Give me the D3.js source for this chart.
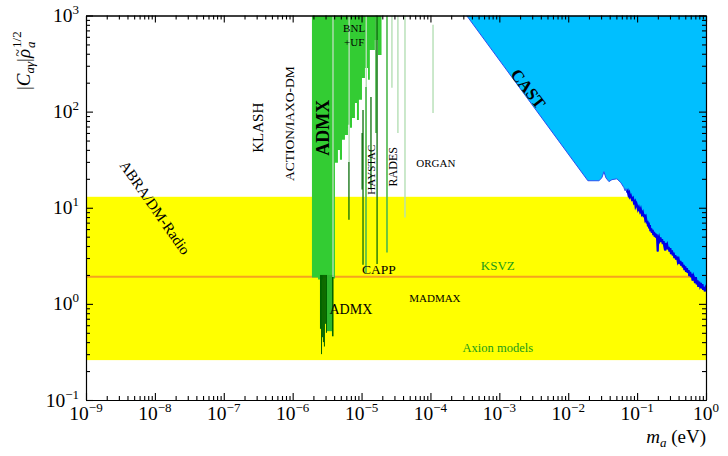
<!DOCTYPE html>
<html>
<head>
<meta charset="utf-8">
<script src="https://cdn.jsdelivr.net/npm/d3@7"></script>
<style>
  body { margin: 0; background: #fff; }
  svg, svg text { font-family: "Liberation Serif", "Times New Roman", "DejaVu Serif", serif; }
</style>
</head>
<body>
<div class="chart"></div>
<script>
// axis ranges and tick exponents
const xDomain = [1e-9, 1];
const yDomain = [0.1, 1000];
const xTickExps = [-9, -8, -7, -6, -5, -4, -3, -2, -1, 0];
const yTickExps = [-1, 0, 1, 2, 3];

// axion model band and KSVZ line
const axionBand = [0.26, 13.0];
const ksvzValue = 1.92;

// CAST lower edge [m_a, C]
const castEdge = [
  [3.35e-4, 1000], [0.0193, 19.1], [0.0279, 19.1], [0.0308, 20.5], [0.0330, 23.7],
  [0.0352, 20.5], [0.0390, 18.7], [0.0431, 19.6], [0.0509, 20.0], [0.0582, 18.2],
  [0.0643, 16.2], [0.067, 15.0], [0.069, 15.8], [0.0711, 14.4], [0.073, 14.9],
  [0.0750, 13.6], [0.077, 14.2], [0.0787, 13.0], [0.081, 13.4], [0.084, 12.2],
  [0.087, 12.6], [0.090, 11.3], [0.093, 11.7], [0.095, 10.4], [0.098, 11.0],
  [0.101, 10.2], [0.103, 9.6], [0.106, 10.1], [0.110, 9.2], [0.113, 9.7],
  [0.117, 8.6], [0.121, 9.0], [0.125, 8.0], [0.128, 8.5], [0.131, 7.6],
  [0.134, 7.9], [0.138, 6.9], [0.141, 7.3], [0.144, 6.4], [0.147, 7.0],
  [0.150, 6.1], [0.153, 6.6], [0.156, 5.7], [0.160, 6.1], [0.164, 5.5],
  [0.168, 5.9], [0.172, 5.2], [0.176, 5.6], [0.180, 5.0], [0.184, 5.4],
  [0.188, 4.9], [0.192, 5.3], [0.196, 4.6], [0.199, 3.5], [0.202, 4.8],
  [0.207, 5.0], [0.212, 4.6], [0.218, 4.9], [0.224, 4.4], [0.230, 4.7],
  [0.236, 4.2], [0.242, 4.5], [0.248, 4.0], [0.255, 3.6], [0.260, 4.3],
  [0.266, 3.9], [0.273, 4.1], [0.280, 3.7], [0.287, 3.9], [0.295, 3.5],
  [0.303, 3.8], [0.311, 3.3], [0.320, 3.6], [0.329, 3.2], [0.338, 3.4],
  [0.348, 3.0], [0.358, 3.2], [0.368, 2.9], [0.379, 3.1], [0.390, 2.75],
  [0.401, 2.9], [0.413, 2.6], [0.425, 2.8], [0.437, 2.5], [0.449, 2.7],
  [0.461, 2.4], [0.474, 2.55], [0.487, 2.25], [0.500, 2.45], [0.514, 2.15],
  [0.528, 2.35], [0.543, 2.1], [0.558, 2.25], [0.573, 1.95], [0.589, 2.15],
  [0.605, 1.9], [0.622, 2.05], [0.639, 1.75], [0.657, 1.95], [0.675, 1.85],
  [0.694, 1.65], [0.713, 1.9], [0.733, 1.6], [0.753, 1.75], [0.774, 1.5],
  [0.795, 1.7], [0.817, 1.55], [0.840, 1.65], [0.863, 1.45], [0.887, 1.6],
  [0.911, 1.4], [0.936, 1.5], [0.962, 1.35], [0.985, 1.45], [1.0, 1.4]
];

// haloscope exclusion (ADMX, BNL+UF, HAYSTAC ...) lower edge as steps [m_a, C]
const haloscopeSteps = [
  [1.905e-6, 1.88], [2.33e-6, 1.79], [2.75e-6, 1.97], [3.25e-6, 1.84],
  [4.11e-6, 29.4], [4.54e-6, 40], [4.85e-6, 31.6], [5.20e-6, 51], [5.74e-6, 57],
  [6.35e-6, 73], [6.79e-6, 68], [7.26e-6, 86], [8.02e-6, 123], [8.57e-6, 82],
  [9.16e-6, 133], [1.014e-5, 224], [1.12e-5, 285], [1.24e-5, 214], [1.32e-5, 438],
  [1.56e-5, 557], [1.73e-5, 389], [1.95e-5, 389]
];

// deep ADMX limits [m_low, m_high, C]
const admxDeepDark = [
  [2.49e-6, 2.58e-6, 0.55], [2.58e-6, 2.66e-6, 0.30], [2.66e-6, 2.75e-6, 0.45],
  [2.75e-6, 2.84e-6, 0.40], [2.84e-6, 2.94e-6, 0.36], [2.94e-6, 3.04e-6, 0.62],
  [3.04e-6, 3.15e-6, 0.50], [3.72e-6, 3.92e-6, 0.46]
];
const admxDeepMid = [[3.15e-6, 3.72e-6, 0.52]];

// narrow haloscope scans [m_a, C_low, C_high]
const darkScans = [
  [6.56e-6, 7.5, 30], [1.05e-5, 2.56, 104], [1.02e-5, 15.5, 60], [1.37e-5, 15.5, 142],
  [1.68e-5, 2.6, 1000]
];
const midScans = [
  [1.16e-5, 2.1, 180], [2.34e-5, 3.42, 1000], [1.62e-5, 60, 1000]
];
const paleScans = [
  [3.85e-6, 1.9, 1000], [6.6e-6, 30, 1000], [1.17e-5, 18.2, 1000], [2.76e-5, 177, 1000],
  [3.37e-5, 60, 1000], [4.27e-5, 7.9, 1000], [1.09e-4, 97, 800]
];

const width = 728, height = 456;
const margin = { top: 15.5, right: 22, bottom: 56, left: 86 };
const serif = "Liberation Serif, Times New Roman, DejaVu Serif, serif";

const svg = d3.select(".chart").append("svg")
  .attr("width", width)
  .attr("height", height)
  .attr("font-family", serif);

const x = d3.scaleLog().domain(xDomain).range([margin.left, width - margin.right]);
const y = d3.scaleLog().domain(yDomain).range([height - margin.bottom, margin.top]);

svg.append("clipPath").attr("id", "plot-clip")
  .append("rect")
  .attr("x", margin.left).attr("y", margin.top)
  .attr("width", x(1) - x(1e-9)).attr("height", y(0.1) - y(1000));

const plot = svg.append("g").attr("clip-path", "url(#plot-clip)");

// yellow axion model band
plot.append("rect")
  .attr("x", x(xDomain[0]))
  .attr("width", x(xDomain[1]) - x(xDomain[0]))
  .attr("y", y(axionBand[1]))
  .attr("height", y(axionBand[0]) - y(axionBand[1]))
  .attr("fill", "#ffff00");

// KSVZ
plot.append("line")
  .attr("x1", x(xDomain[0])).attr("x2", x(xDomain[1]))
  .attr("y1", y(ksvzValue)).attr("y2", y(ksvzValue))
  .attr("stroke", "#f5a31f").attr("stroke-width", 2);

// haloscopes
const haloArea = d3.area()
  .x(d => x(d[0]))
  .y0(y(1000))
  .y1(d => y(d[1]))
  .curve(d3.curveStepAfter);
plot.append("path").datum(haloscopeSteps)
  .attr("d", haloArea)
  .attr("fill", "#33cc33");

function deep(data, color) {
  plot.append("g").selectAll("rect")
    .data(data)
    .join("rect")
    .attr("x", d => x(d[0]))
    .attr("width", d => Math.max(1, x(d[1]) - x(d[0])))
    .attr("y", y(2.0))
    .attr("height", d => y(d[2]) - y(2.0))
    .attr("fill", color);
}
deep(admxDeepMid, "#2eb82e");
deep(admxDeepDark, "#006400");

function scans(data, color, w) {
  plot.append("g").selectAll("line")
    .data(data)
    .join("line")
    .attr("x1", d => x(d[0])).attr("x2", d => x(d[0]))
    .attr("y1", d => y(d[2])).attr("y2", d => y(d[1]))
    .attr("stroke", color).attr("stroke-width", w);
}
scans(paleScans, "#b5dfb5", 1.4);
scans(midScans, "#4cb84c", 1.6);
scans(darkScans, "#0a6e0a", 1.3);

// CAST
const castArea = d3.area()
  .x(d => x(d[0]))
  .y0(y(1000))
  .y1(d => y(d[1]));
plot.append("path").datum(castEdge)
  .attr("d", castArea)
  .attr("fill", "#00bfff");
const castLine = d3.line().x(d => x(d[0])).y(d => y(d[1]));
plot.append("path").datum(castEdge)
  .attr("d", castLine)
  .attr("fill", "none").attr("stroke", "#2a50f0").attr("stroke-width", 1);
plot.append("path").datum(castEdge.filter(d => d[0] >= 0.07))
  .attr("d", castLine)
  .attr("fill", "none").attr("stroke", "#0000e6").attr("stroke-width", 2.2);

// annotations
function label(m, c, txt, opts = {}) {
  const t = svg.append("text")
    .attr("transform", `translate(${x(m)},${y(c)}) rotate(${opts.rotate || 0})`)
    .attr("text-anchor", "middle")
    .attr("dominant-baseline", "central")
    .attr("font-size", opts.size || 12)
    .attr("fill", opts.color || "#000")
    .text(txt);
  if (opts.bold) t.attr("font-weight", "bold");
  return t;
}
label(1e-8, 10, "ABRA/DM-Radio", { rotate: 55, size: 15 });
label(3.13e-7, 68, "KLASH", { rotate: -90, size: 15 });
label(9.1e-7, 75, "ACTION/IAXO-DM", { rotate: -90, size: 13.5 });
label(2.75e-6, 68, "ADMX", { rotate: -90, size: 18, bold: true });
label(7.8e-6, 741, "BNL", { size: 11 });
label(7.8e-6, 531, "+UF", { size: 11 });
label(1.37e-5, 24.9, "HAYSTAC", { rotate: -90, size: 11 });
label(2.86e-5, 26.7, "RADES", { rotate: -90, size: 12 });
label(1.2e-4, 29.4, "ORGAN", { size: 11 });
label(1.79e-5, 2.28, "CAPP", { size: 13.5 });
label(7.0e-6, 0.875, "ADMX", { size: 14 });
label(1.16e-4, 1.16, "MADMAX", { size: 11 });
label(9.5e-4, 2.5, "KSVZ", { size: 13, color: "#1a9a1a" });
label(9.5e-4, 0.344, "Axion models", { size: 12.5, color: "#1a9a1a" });
label(2.6e-3, 172, "CAST", { rotate: 52, size: 17, bold: true });

// axes: major and minor ticks on all four sides, pointing inward
const minorVals = (lo, hi) => {
  const out = [];
  for (let e = lo; e < hi; e++) for (let k = 2; k <= 9; k++) out.push(k * Math.pow(10, e));
  return out;
};
const xMajor = xTickExps.map(e => Math.pow(10, e));
const yMajor = yTickExps.map(e => Math.pow(10, e));
const xMinor = minorVals(-9, 0);
const yMinor = minorVals(-1, 3);

function drawAxis(axisFn, scale, major, minor, transform) {
  const g = svg.append("g").attr("transform", transform);
  g.call(axisFn(scale).tickValues(major).tickSize(-7).tickSizeOuter(0).tickFormat(""));
  g.append("g").call(axisFn(scale).tickValues(minor).tickSize(-4).tickSizeOuter(0).tickFormat(""));
  g.selectAll("path, line").attr("stroke", "#000").attr("stroke-width", 1.1);
}
drawAxis(d3.axisBottom, x, xMajor, xMinor, `translate(0,${y(0.1)})`);
drawAxis(d3.axisTop, x, xMajor, xMinor, `translate(0,${y(1000)})`);
drawAxis(d3.axisLeft, y, yMajor, yMinor, `translate(${x(1e-9)},0)`);
drawAxis(d3.axisRight, y, yMajor, yMinor, `translate(${x(1)},0)`);

// tick labels with superscript exponents
const expText = e => e < 0 ? "\u2212" + (-e) : String(e);

const xLab = svg.append("g").selectAll("text")
  .data(xTickExps)
  .join("text")
  .attr("x", e => x(Math.pow(10, e)))
  .attr("y", y(0.1) + 20)
  .attr("text-anchor", "middle")
  .attr("font-family", serif)
  .attr("font-size", 19.5);
xLab.append("tspan").text("10");
xLab.append("tspan").attr("dy", -8).attr("font-size", 13).text(expText);

const yLab = svg.append("g").selectAll("text")
  .data(yTickExps)
  .join("text")
  .attr("x", x(1e-9) - 7)
  .attr("y", e => y(Math.pow(10, e)) + 6.5)
  .attr("text-anchor", "end")
  .attr("font-family", serif)
  .attr("font-size", 19.5);
yLab.append("tspan").text("10");
yLab.append("tspan").attr("dy", -8).attr("font-size", 13).text(expText);

// y title: main part, then stacked sub/superscript
const yTitleG = svg.append("g").attr("transform", "translate(30,90) rotate(-90)");
const yMain = yTitleG.append("text")
  .attr("x", 0).attr("y", 0)
  .attr("font-family", serif)
  .attr("font-size", 19);
yMain.append("tspan").text("|");
yMain.append("tspan").attr("font-style", "italic").text("C");
yMain.append("tspan").attr("font-size", 13).attr("font-style", "italic").attr("dy", 4).text("a\u03b3");
yMain.append("tspan").attr("dy", -4).text("|");
yMain.append("tspan").attr("font-style", "italic").text("\u03c1");
const mainLen = yMain.node().getComputedTextLength();
// tilde over rho
yTitleG.append("text")
  .attr("x", mainLen - 4).attr("y", -7)
  .attr("text-anchor", "middle")
  .attr("font-family", serif)
  .attr("font-size", 14)
  .text("~");
yTitleG.append("text")
  .attr("x", mainLen + 1).attr("y", 5)
  .attr("font-family", serif).attr("font-style", "italic")
  .attr("font-size", 13)
  .text("a");
yTitleG.append("text")
  .attr("x", mainLen + 1).attr("y", -9)
  .attr("font-family", serif)
  .attr("font-size", 13)
  .text("1/2");

const xTitle = svg.append("text")
  .attr("x", x(1))
  .attr("y", y(0.1) + 43)
  .attr("text-anchor", "end")
  .attr("font-family", serif)
  .attr("font-size", 19);
xTitle.append("tspan").attr("font-style", "italic").text("m");
xTitle.append("tspan").attr("font-size", 13).attr("font-style", "italic").attr("dy", 4).text("a");
xTitle.append("tspan").attr("dy", -4).text(" (eV)");
</script>
</body>
</html>
